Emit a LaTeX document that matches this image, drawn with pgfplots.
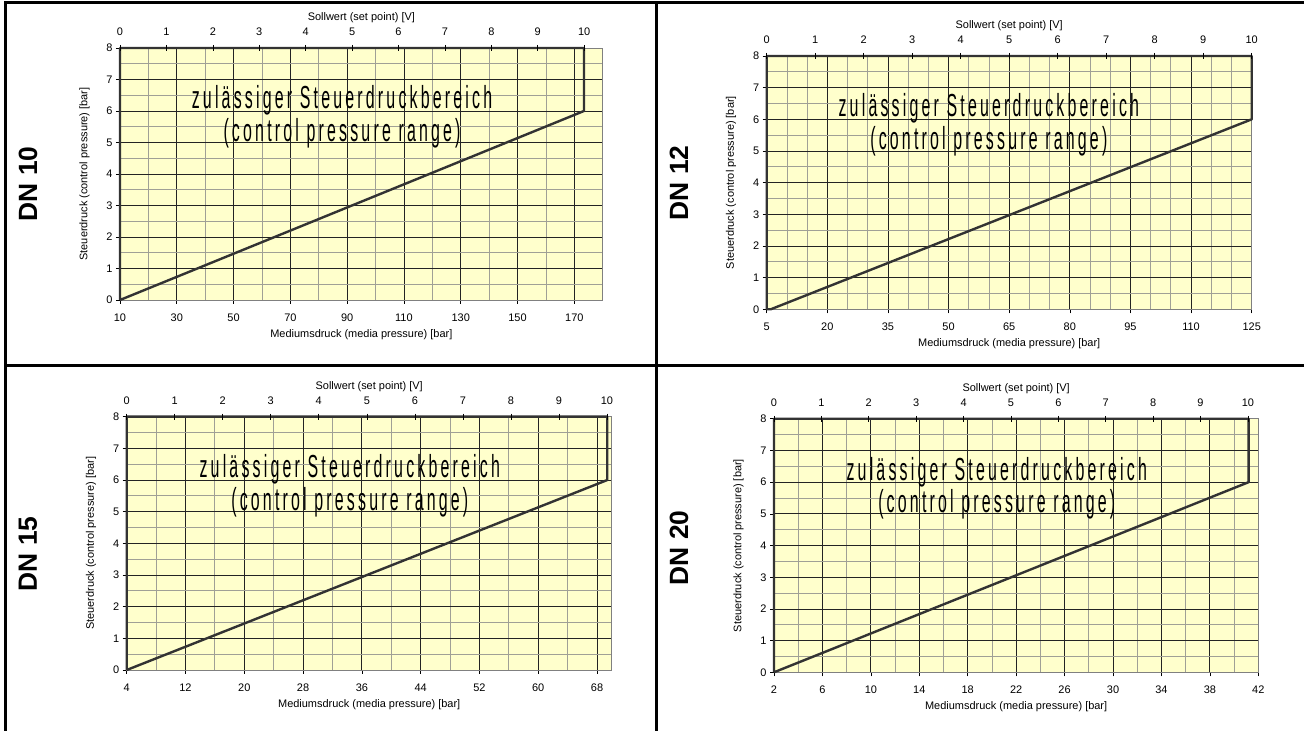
\documentclass[border=0pt]{standalone}
\usepackage{fontspec}
\setmainfont{Liberation Sans}
\newfontfamily\narrowfont{Liberation Sans}[FakeStretch=0.5,LetterSpace=10]
\usepackage{pgfplots}
\pgfplotsset{compat=1.18}

\definecolor{chartbg}{RGB}{255,255,204}
\definecolor{majorgrid}{RGB}{35,35,35}
\definecolor{minorgrid}{RGB}{160,160,150}
\definecolor{dataline}{RGB}{51,51,51}

\pgfplotsset{
  panel/.style={
    scale only axis,
    anchor=north west,
    clip=false,
    ymin=0, ymax=8,
    ytick={0,...,8},
    minor ytick={0.5,1.5,...,7.5},
    grid=both,
    major grid style={majorgrid, line width=0.8bp},
    minor grid style={minorgrid, line width=0.8bp},
    axis background/.style={fill=chartbg},
    axis line style={gray, line width=0.8bp},
    tick align=outside, xtick pos=bottom, ytick pos=left,
    major tick length=4bp, minor tick length=0pt,
    tick style={black, line width=0.6bp},
    /pgf/number format/assume math mode=true,
    tick label style={font=\fontsize{11}{13}\selectfont},
    xticklabel style={yshift=-6bp},
    label style={font=\fontsize{11}{13}\selectfont},
    xlabel={Mediumsdruck (media pressure) [bar]},
    ylabel={Steuerdruck (control pressure) [bar]},
    xlabel style={yshift=-1bp},
    ylabel style={yshift=10bp},
  },
  setpoint/.style={
    scale only axis,
    anchor=north west,
    xmin=0, ymin=0, ymax=8,
    axis x line*=top, axis y line=none,
    axis line style={draw=none},
    xtick={0,...,10},
    tick align=center, major tick length=6bp,
    tick style={black, line width=0.6bp},
    /pgf/number format/assume math mode=true,
    tick label style={font=\fontsize{11}{13}\selectfont},
    xticklabel style={yshift=6bp},
    label style={font=\fontsize{11}{13}\selectfont},
    xlabel={Sollwert (set point) [V]},
    xlabel style={yshift=-2bp},
  },
  rangeline/.style={dataline, line width=2.4bp, line join=round},
}
\tikzset{
  rangetext/.style={font=\narrowfont\fontsize{32}{33}\selectfont, align=center},
  dnlabel/.style={rotate=90, font=\bfseries\fontsize{26.5}{28}\selectfont},
}

\begin{document}
\begin{tikzpicture}
\useasboundingbox (0,0) rectangle (1304bp,731bp);

% DN 10
\begin{axis}[panel, at={(120bp,683bp)}, width=482.7bp, height=252bp,
  xmin=10, xmax=180, xtick={10,30,...,170}, minor xtick={20,40,...,160}]
  \addplot[rangeline] coordinates {(10,0) (173.4,6) (173.4,8) (10,8) (10,0)};
  \node[rangetext] at (rel axis cs:0.46,0.726) {zulässiger Steuerdruckbereich\\(control pressure range)};
\end{axis}
\begin{axis}[setpoint, at={(120bp,683bp)}, width=482.7bp, height=252bp, xmax=10.40]
\end{axis}

% DN 12
\begin{axis}[panel, at={(766.7bp,675bp)}, width=485bp, height=253.3bp,
  xmin=5, xmax=125, xtick={5,20,...,125}, minor xtick={10,15,...,120}]
  \addplot[rangeline] coordinates {(6,0) (125,6) (125,8) (5,8) (5,0) (6,0)};
  \node[rangetext] at (rel axis cs:0.458,0.727) {zulässiger Steuerdruckbereich\\(control pressure range)};
\end{axis}
\begin{axis}[setpoint, at={(766.7bp,675bp)}, width=485bp, height=253.3bp, xmax=10]
\end{axis}

% DN 15
\begin{axis}[panel, at={(126.7bp,314.3bp)}, width=485bp, height=253.3bp,
  xmin=4, xmax=70, xtick={4,12,...,68}, minor xtick={8,16,...,64}]
  \addplot[rangeline] coordinates {(4,0) (69.4,6) (69.4,8) (4,8) (4,0)};
  \node[rangetext] at (rel axis cs:0.46,0.726) {zulässiger Steuerdruckbereich\\(control pressure range)};
\end{axis}
\begin{axis}[setpoint, at={(126.7bp,314.3bp)}, width=485bp, height=253.3bp, xmax=10.10]
\end{axis}

% DN 20
\begin{axis}[panel, at={(774bp,312.2bp)}, width=484.3bp, height=253.5bp,
  xmin=2, xmax=42, xtick={2,6,...,42}, minor xtick={4,8,...,40}]
  \addplot[rangeline] coordinates {(2,0) (41.2,6) (41.2,8) (2,8) (2,0)};
  \node[rangetext] at (rel axis cs:0.46,0.726) {zulässiger Steuerdruckbereich\\(control pressure range)};
\end{axis}
\begin{axis}[setpoint, at={(774bp,312.2bp)}, width=484.3bp, height=253.5bp, xmax=10.22]
\end{axis}

% panel labels and frame
\node[dnlabel] at (28bp,547bp) {DN 10};
\node[dnlabel] at (679bp,548bp) {DN 12};
\node[dnlabel] at (28bp,177bp) {DN 15};
\node[dnlabel] at (679bp,183bp) {DN 20};
\draw[line width=3bp] (5bp,0bp) -- (5bp,728bp) -- (1304bp,728bp);
\draw[line width=3bp] (656bp,0bp) -- (656bp,728bp);
\draw[line width=3bp] (5bp,365bp) -- (1304bp,365bp);
\end{tikzpicture}
\end{document}
